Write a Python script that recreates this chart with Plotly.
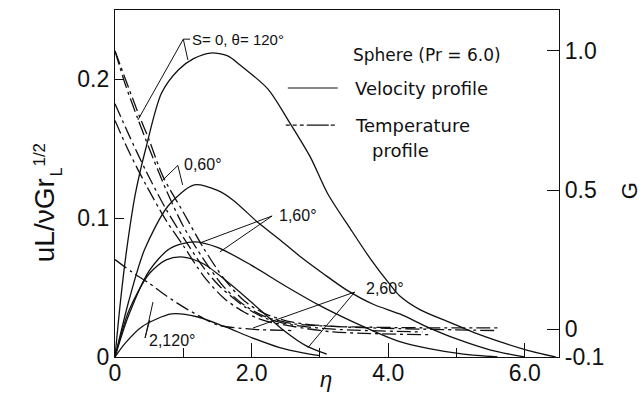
import plotly.graph_objects as go

# ---- data -------------------------------------------------------------
# velocity profiles uL/(nu Gr_L^1/2) against the similarity variable eta
eta_v_s0_120 = [0, 0.08, 0.17, 0.3, 0.46, 0.68, 0.93, 1.15, 1.4, 1.65, 1.84, 2.24, 2.53, 2.86,
                3.11, 3.45, 3.75, 4.03, 4.17, 4.47, 4.9, 5.24, 5.7, 6.1, 6.45]
u_s0_120 = [0, 0.04, 0.077, 0.118, 0.152, 0.19, 0.207, 0.215, 0.219, 0.217, 0.21, 0.193, 0.171,
            0.144, 0.118, 0.092, 0.07, 0.052, 0.044, 0.034, 0.025, 0.018, 0.01, 0.004, 0]

eta_v_s0_60 = [0, 0.2, 0.43, 0.78, 1.16, 1.5, 1.73, 2.09, 2.4, 2.72, 3.05, 3.4, 3.78, 4.17, 4.6,
               5.0, 5.5, 6.0]
u_s0_60 = [0, 0.04, 0.077, 0.109, 0.124, 0.12, 0.113, 0.097, 0.085, 0.072, 0.06, 0.048, 0.038,
           0.031, 0.021, 0.013, 0.005, 0]

eta_v_s1_60 = [0, 0.2, 0.5, 0.8, 1.16, 1.5, 2.0, 2.5, 3.0, 3.5, 4.17, 4.6, 5.1, 5.6]
u_s1_60 = [0, 0.03, 0.062, 0.078, 0.083, 0.079, 0.066, 0.051, 0.037, 0.025, 0.011, 0.006, 0.002, 0]

eta_v_s2_60 = [0, 0.2, 0.5, 0.75, 1.0, 1.3, 1.7, 2.1, 2.5, 2.8, 3.1]
u_s2_60 = [0, 0.033, 0.06, 0.07, 0.072, 0.067, 0.052, 0.035, 0.018, 0.008, 0.002]

eta_v_s2_120 = [0, 0.15, 0.4, 0.83, 1.2, 1.6, 2.0, 2.4, 2.75, 3.0]
u_s2_120 = [0, 0.01, 0.022, 0.031, 0.029, 0.022, 0.014, 0.007, 0.003, 0.001]

# temperature profiles G
eta_t_s0_120 = [0, 0.15, 0.336, 0.5, 0.75, 1.0, 1.3, 1.6, 1.9, 2.2, 2.6, 3.2, 4.5, 5.6]
g_s0_120 = [1.0, 0.88, 0.755, 0.65, 0.5, 0.37, 0.25, 0.15, 0.085, 0.045, 0.02, 0.01, 0.005, 0.005]

eta_t_s0_60 = [0, 0.15, 0.35, 0.5, 0.7, 1.0, 1.3, 1.6, 1.9, 2.2, 2.6, 3.2, 4.5, 5.6]
g_s0_60 = [1.0, 0.9, 0.77, 0.68, 0.55, 0.42, 0.29, 0.18, 0.1, 0.055, 0.025, 0.01, 0.0, -0.005]

eta_t_s1_60 = [0, 0.2, 0.45, 0.75, 1.0, 1.3, 1.55, 1.9, 2.2, 2.6, 3.2, 4.5]
g_s1_60 = [0.81, 0.7, 0.57, 0.43, 0.33, 0.22, 0.15, 0.08, 0.04, 0.015, 0.0, -0.01]

eta_t_s2_60 = [0, 0.2, 0.45, 0.75, 1.0, 1.3, 1.6, 1.9, 2.2, 2.6, 3.2, 4.6]
g_s2_60 = [0.75, 0.64, 0.52, 0.39, 0.3, 0.19, 0.11, 0.06, 0.03, 0.01, -0.01, -0.02]

eta_t_s2_120 = [0, 0.25, 0.5, 0.75, 1.0, 1.25, 1.5, 2.0, 2.6]
g_s2_120 = [0.25, 0.205, 0.165, 0.12, 0.08, 0.045, 0.015, 0.0, -0.005]

x_tick_vals = [0, 2, 4, 6]
x_tick_text = ["0", "2.0", "4.0", "6.0"]
x_minor_vals = [1, 3, 5]
u_tick_vals = [0, 0.1, 0.2]
u_tick_text = ["0", "0.1", "0.2"]
g_tick_vals = [-0.1, 0, 0.5, 1.0]
g_tick_text = ["-0.1", "0", "0.5", "1.0"]

# ---- figure -----------------------------------------------------------
FONT = "Liberation Sans"
KEY_FONT = "DejaVu Sans"
INK = "#111111"
TEMP_DASH = "14px,4px,3px,4px"

fig = go.Figure()

velocity = [(eta_v_s0_120, u_s0_120), (eta_v_s0_60, u_s0_60), (eta_v_s1_60, u_s1_60),
            (eta_v_s2_60, u_s2_60), (eta_v_s2_120, u_s2_120)]
for ex, uy in velocity:
    fig.add_trace(go.Scatter(x=ex, y=uy, mode="lines",
                             line=dict(color=INK, width=1.3, shape="spline", smoothing=0.8),
                             showlegend=False, hoverinfo="skip"))

temperature = [(eta_t_s0_120, g_s0_120), (eta_t_s0_60, g_s0_60), (eta_t_s1_60, g_s1_60),
               (eta_t_s2_60, g_s2_60), (eta_t_s2_120, g_s2_120)]
for ex, gy in temperature:
    fig.add_trace(go.Scatter(x=ex, y=gy, yaxis="y2", mode="lines",
                             line=dict(color=INK, width=1.3, dash=TEMP_DASH, shape="spline",
                                       smoothing=0.8),
                             showlegend=False, hoverinfo="skip"))

# key line samples
fig.add_shape(type="line", xref="x", yref="y", x0=2.53, x1=3.26, y0=0.1938, y1=0.1938,
              line=dict(color=INK, width=1.2))
fig.add_shape(type="line", xref="x", yref="y", x0=2.5, x1=3.26, y0=0.1671, y1=0.1671,
              line=dict(color=INK, width=1.2, dash="4px,3px,4px,3px,4px,3px,22px,2px"))


def label(x, y, text, size=16, family=FONT):
    fig.add_annotation(x=x, y=y, xref="x", yref="y", text=text, showarrow=False,
                       xanchor="left", yanchor="middle",
                       font=dict(family=family, size=size, color=INK))


label(3.46, 0.2176, "Sphere (Pr = 6.0)", 17, KEY_FONT)
label(3.48, 0.1938, "Velocity profile", 18, KEY_FONT)
label(3.48, 0.1671, "Temperature", 18, KEY_FONT)
label(3.73, 0.1491, "profile", 18, KEY_FONT)

label(1.10, 0.229, "S= 0, θ= 120°", 15)
label(0.98, 0.1386, "0,60°")
label(2.37, 0.1023, "1,60°")
label(3.65, 0.0497, "2,60°")
label(0.47, 0.0122, "2,120°")

# leader lines from each case label to its curves
leaders = [
    ((1.10, 0.229), (1.0, 0.229)), ((1.0, 0.229), (0.336, 0.1708)), ((1.0, 0.229), (1.067, 0.214)),
    ((0.92, 0.138), (0.70, 0.1275)), ((0.92, 0.138), (0.99, 0.124)),
    ((2.30, 0.1016), (1.24, 0.0821)), ((2.30, 0.1016), (1.535, 0.0757)),
    ((3.51, 0.0468), (2.02, 0.0209)), ((3.51, 0.0468), (2.82, 0.0065)),
    ((0.44, 0.0137), (0.556, 0.0396)), ((0.44, 0.0137), (0.51, 0.0267)),
]
for (xa, ya), (xb, yb) in leaders:
    fig.add_shape(type="line", xref="x", yref="y", x0=xa, y0=ya, x1=xb, y1=yb,
                  line=dict(color=INK, width=1.0))

# axis titles
def title(x, y, text, size, angle=-90):
    fig.add_annotation(xref="paper", yref="paper", x=x, y=y, text=text, textangle=angle,
                       showarrow=False, xanchor="center", yanchor="middle",
                       font=dict(family=FONT, size=size, color=INK))


title(-0.157, 0.395, "uL/νGr", 28)
title(-0.133, 0.535, "L", 16)
title(-0.170, 0.582, "1/2", 17)
title(1.158, 0.478, "G", 22)
title(0.475, -0.066, "<i>η</i>", 22, angle=0)

axis_common = dict(showline=True, linecolor=INK, linewidth=1.3, showgrid=False, zeroline=False,
                   ticks="inside", tickcolor=INK, tickwidth=1.2,
                   tickfont=dict(family=FONT, size=23, color=INK))

fig.update_layout(
    width=644, height=397,
    margin=dict(l=115, r=85, t=10, b=40),
    paper_bgcolor="white", plot_bgcolor="white",
    xaxis=dict(range=[0, 6.5], tickvals=x_tick_vals, ticktext=x_tick_text, ticklen=14,
               ticklabelstandoff=-5, mirror=True,
               minor=dict(tickvals=x_minor_vals, ticks="inside", ticklen=9,
                          tickcolor=INK, tickwidth=1.2), **axis_common),
    yaxis=dict(range=[0, 0.25], tickvals=u_tick_vals, ticktext=u_tick_text, ticklen=9,
               **axis_common),
    yaxis2=dict(range=[-0.1, 1.147], overlaying="y", side="right", tickvals=g_tick_vals,
                ticktext=g_tick_text, ticklen=12, **axis_common),
    showlegend=False,
)

fig.write_html("out.html")
